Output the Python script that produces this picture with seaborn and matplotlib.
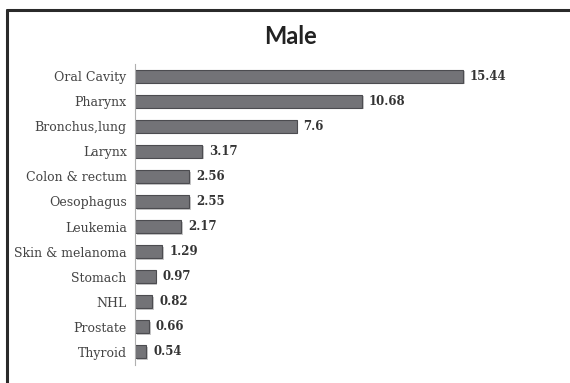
import matplotlib
matplotlib.use("Agg")
import matplotlib.pyplot as plt
import matplotlib.patheffects as pe
from matplotlib.lines import Line2D
import seaborn as sns
import pandas as pd

# Incidence figures for male patients, by cancer site
sites = ["Oral Cavity", "Pharynx", "Bronchus,lung", "Larynx", "Colon & rectum",
         "Oesophagus", "Leukemia", "Skin & melanoma", "Stomach", "NHL",
         "Prostate", "Thyroid"]
values = [15.44, 10.68, 7.6, 3.17, 2.56, 2.55, 2.17, 1.29, 0.97, 0.82, 0.66, 0.54]
title = "Male"

df = pd.DataFrame({"site": sites, "value": values})

sns.set_theme(style="white")

W, H, DPI = 570, 383, 100
fig = plt.figure(figsize=(W / DPI, H / DPI), dpi=DPI)
fig.patch.set_facecolor("white")

ax_left, ax_right = 135, 560
ax_top, ax_bottom = 63.5, 364.5
ax = fig.add_axes([ax_left / W, 1 - ax_bottom / H,
                   (ax_right - ax_left) / W, (ax_bottom - ax_top) / H])

sns.barplot(data=df, x="value", y="site", orient="h", ax=ax,
            color="#737377", saturation=1, width=0.52,
            edgecolor="#4c4c50", linewidth=0.8)

for bar in ax.patches:
    bar.set_path_effects([pe.SimplePatchShadow(offset=(1.2, -1.2), alpha=0.25),
                          pe.Normal()])

ax.bar_label(ax.containers[0], fmt="%g", padding=5,
             fontsize=8.5, fontweight="bold", family="DejaVu Serif",
             color="#333333")

ax.set_xlim(0, 20)
ax.set_ylim(len(sites) - 0.5, -0.5)
ax.set_xlabel("")
ax.set_ylabel("")
ax.set_xticks([])
ax.tick_params(axis="y", length=0, pad=6)
for lbl in ax.get_yticklabels():
    lbl.set_family("DejaVu Serif")
    lbl.set_fontsize(9)
    lbl.set_color("#444444")

for side in ["top", "right", "bottom"]:
    ax.spines[side].set_visible(False)
ax.spines["left"].set_color("#b0b0b0")
ax.spines["left"].set_linewidth(0.8)
ax.patch.set_alpha(0)

fig.text(290 / W, 1 - 37 / H, title, ha="center", va="center",
         fontsize=17, fontweight="bold", family="Lato", color="#222222")

# Frame lines on the left and top edges
fig.add_artist(Line2D([7 / W, 7 / W], [0, 1 - 10 / H],
                      transform=fig.transFigure, color="#2a2a2a", lw=2.2))
fig.add_artist(Line2D([7 / W, 1], [1 - 10 / H, 1 - 10 / H],
                      transform=fig.transFigure, color="#2a2a2a", lw=2.2))

fig.savefig("out.png", dpi=DPI)
